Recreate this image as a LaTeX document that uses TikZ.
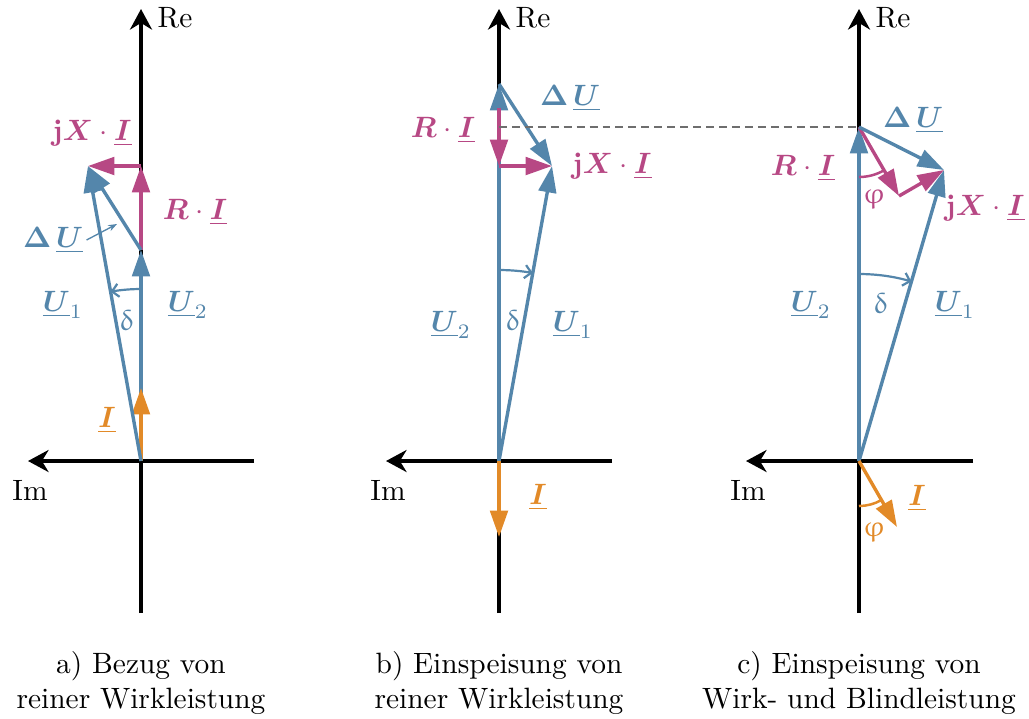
\documentclass[tikz,border=0pt]{standalone}
\usepackage{amsmath}
\usepackage{bm}
\usepackage{upgreek}
\usepackage{tikz}
\usetikzlibrary{arrows.meta}
\definecolor{ublue}{RGB}{84,134,171}
\definecolor{umag}{RGB}{183,72,132}
\definecolor{uorange}{RGB}{226,138,40}
\definecolor{dashgray}{RGB}{110,110,110}
\tikzstyle{axis} = [line width=1.1pt, -{Stealth[length=7pt,width=7.5pt]}]
\tikzstyle{vec} = [line width=1.15pt, -{Triangle[length=9pt,width=6pt]}]
\tikzstyle{angarc} = [line width=0.75pt, -{Straight Barb[length=2.2pt,width=4.5pt]}]
\tikzstyle{phiarc} = [line width=0.85pt]
\tikzstyle{pinarrow} = [line width=0.45pt, ublue, -{Stealth[length=3pt,width=2.2pt]}]
\tikzstyle{caption} = [align=center]
\newcommand{\phasor}[1]{\underline{\bm{#1}}}

\begin{document}
\begin{tikzpicture}[x=0.34pt, y=0.34pt]
    \useasboundingbox (0,0) rectangle (1029,-718);

    % a) Bezug von reiner Wirkleistung
    \begin{scope}[shift={(141,-461)}]
        % Axes
        \coordinate (Oa) at (0,0);
        \coordinate (Rea) at (0,452);
        \coordinate (Ima) at (-113,0);
        \draw [axis] (0,-152) -- (Rea);
        \draw [axis] (113,0) -- (Ima);
        \node (Rea_label) at (34,443) {Re};
        \node (Ima_label) at (-111,-29) {Im};
        % Phasors
        \coordinate (Ia) at (0,73);
        \coordinate (U2a) at (0,211);
        \coordinate (RIa) at (0,295);
        \coordinate (U1a) at (-53,295);
        \draw [vec, ublue] (Oa) -- (U2a);
        \draw [vec, uorange] (Oa) -- (Ia);
        \draw [vec, umag] (U2a) -- (RIa);
        \draw [vec, umag] (RIa) -- (U1a);
        \draw [vec, ublue] (Oa) -- (U1a);
        \draw [vec, ublue] (U2a) -- (U1a);
        \draw [angarc, ublue] (0,172) arc[start angle=90, end angle=100.2, radius=172];
        % Labels
        \node (jXa_label) [umag] at (-49,328) {$\mathbf{j}\bm{X}\cdot\phasor{I}$};
        \node (RIa_label) [umag] at (54,249) {$\bm{R}\cdot\phasor{I}$};
        \node (dUa_label) [ublue, inner sep=1pt] at (-88,221) {$\bm{\Delta}\,\phasor{U}$};
        \draw [pinarrow] (dUa_label.east) -- (-24,237);
        \node (U1a_label) [ublue] at (-78,156) {$\phasor{U}_1$};
        \node (U2a_label) [ublue] at (47,156) {$\phasor{U}_2$};
        \node (da_label) [ublue] at (-14,141) {$\updelta$};
        \node (Ia_label) [uorange] at (-34,41) {$\phasor{I}$};
        \node (capa) [caption] at (0,-222) {a) Bezug von\\reiner Wirkleistung};
    \end{scope}

    % b) Einspeisung von reiner Wirkleistung
    \begin{scope}[shift={(499,-461)}]
        % Axes
        \coordinate (Ob) at (0,0);
        \coordinate (Reb) at (0,452);
        \coordinate (Imb) at (-113,0);
        \draw [axis] (0,-152) -- (Reb);
        \draw [axis] (113,0) -- (Imb);
        \node (Reb_label) at (34,443) {Re};
        \node (Imb_label) at (-111,-29) {Im};
        % Phasors
        \coordinate (U2b) at (0,377);
        \coordinate (RIb) at (0,295);
        \coordinate (U1b) at (53,295);
        \coordinate (Ib) at (0,-76);
        \coordinate (Db) at (0,334);
        \draw [vec, ublue] (Ob) -- (U2b);
        \draw [vec, umag, shorten <=8pt] (U2b) -- (RIb);
        \draw [vec, umag] (RIb) -- (U1b);
        \draw [vec, ublue] (Ob) -- (U1b);
        \draw [vec, ublue] (U2b) -- (U1b);
        \draw [vec, uorange] (Ob) -- (Ib);
        \draw [angarc, ublue] (0,191) arc[start angle=90, end angle=79.8, radius=191];
        % Labels
        \node (dUb_label) [ublue] at (71,363) {$\bm{\Delta}\,\phasor{U}$};
        \node (RIb_label) [umag] at (-56,331) {$\bm{R}\cdot\phasor{I}$};
        \node (jXb_label) [umag] at (113,295) {$\mathbf{j}\bm{X}\cdot\phasor{I}$};
        \node (U2b_label) [ublue] at (-48,136) {$\phasor{U}_2$};
        \node (U1b_label) [ublue] at (74,136) {$\phasor{U}_1$};
        \node (db_label) [ublue] at (14,141) {$\updelta$};
        \node (Ib_label) [uorange] at (39,-36) {$\phasor{I}$};
        \node (capb) [caption] at (0,-222) {b) Einspeisung von\\reiner Wirkleistung};
    \end{scope}

    % c) Einspeisung von Wirk- und Blindleistung
    \begin{scope}[shift={(859,-461)}]
        % Axes
        \coordinate (Oc) at (0,0);
        \coordinate (Rec) at (0,452);
        \coordinate (Imc) at (-113,0);
        \draw [axis] (0,-152) -- (Rec);
        \draw [axis] (114,0) -- (Imc);
        \node (Rec_label) at (34,443) {Re};
        \node (Imc_label) at (-111,-29) {Im};
        % Phasors
        \coordinate (U2c) at (0,334);
        \coordinate (RIc) at (40,265);
        \coordinate (U1c) at (85,291);
        \coordinate (Ic) at (38,-66);
        \draw [vec, ublue] (Oc) -- (U2c);
        \draw [vec, umag] (U2c) -- (RIc);
        \draw [vec, umag] (RIc) -- (U1c);
        \draw [vec, ublue] (Oc) -- (U1c);
        \draw [vec, ublue] (U2c) -- (U1c);
        \draw [vec, uorange] (Oc) -- (Ic);
        \draw [angarc, ublue] (0,187) arc[start angle=90, end angle=73.7, radius=187];
        \draw [phiarc, umag] (0,284) arc[start angle=270, end angle=300, radius=50];
        \draw [phiarc, uorange] (0,-45) arc[start angle=270, end angle=300, radius=45];
        % Labels
        \node (dUc_label) [ublue] at (54,341) {$\bm{\Delta}\,\phasor{U}$};
        \node (RIc_label) [umag] at (-56,293) {$\bm{R}\cdot\phasor{I}$};
        \node (jXc_label) [umag] at (126,253) {$\mathbf{j}\bm{X}\cdot\phasor{I}$};
        \node (phic_label) [umag] at (15,264) {$\upvarphi$};
        \node (U2c_label) [ublue] at (-48,156) {$\phasor{U}_2$};
        \node (U1c_label) [ublue] at (96,156) {$\phasor{U}_1$};
        \node (dc_label) [ublue] at (22,158) {$\updelta$};
        \node (Ic_label) [uorange] at (58,-37) {$\phasor{I}$};
        \node (phiI_label) [uorange] at (15,-69) {$\upvarphi$};
        \node (capc) [caption] at (0,-222) {c) Einspeisung von\\Wirk- und Blindleistung};
    \end{scope}

    % Dashed reference line
    \draw [dashed, dashgray, line width=0.5pt, dash pattern=on 2.7pt off 1.7pt] (Db) -- (U2c);
\end{tikzpicture}
\end{document}
